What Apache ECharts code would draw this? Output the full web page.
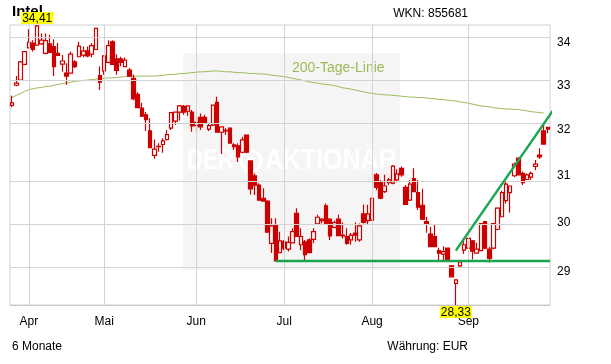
<!DOCTYPE html>
<html><head><meta charset="utf-8">
<script src="https://cdn.jsdelivr.net/npm/echarts@6/dist/echarts.min.js"></script>
<style>html,body{margin:0;padding:0;background:#fff}#c{width:611px;height:364px}</style>
</head><body><div id="c"></div>
<script>
const dates = [
'28.03.','29.03.','30.03.','31.03.',
'03.04.','04.04.','05.04.','06.04.','07.04.','10.04.','11.04.','12.04.','13.04.','18.04.','19.04.','20.04.','21.04.','24.04.','25.04.','26.04.','27.04.','28.04.',
'02.05.','03.05.','04.05.','05.05.','08.05.','09.05.','10.05.','11.05.','12.05.','15.05.','16.05.','17.05.','18.05.','19.05.','22.05.','23.05.','24.05.','25.05.','26.05.','29.05.','30.05.','31.05.',
'01.06.','02.06.','06.06.','07.06.','08.06.','09.06.','12.06.','13.06.','14.06.','15.06.','16.06.','19.06.','20.06.','21.06.','22.06.','23.06.','26.06.','27.06.','28.06.','29.06.','30.06.',
'03.07.','04.07.','05.07.','06.07.','07.07.','10.07.','11.07.','12.07.','13.07.','14.07.','17.07.','18.07.','19.07.','20.07.','21.07.','24.07.','25.07.','26.07.','27.07.','28.07.','31.07.',
'01.08.','02.08.','03.08.','04.08.','07.08.','08.08.','09.08.','10.08.','11.08.','14.08.','15.08.','16.08.','17.08.','18.08.','21.08.','22.08.','23.08.','24.08.','25.08.','28.08.','29.08.','30.08.','31.08.',
'01.09.','04.09.','05.09.','06.09.','07.09.','08.09.','11.09.','12.09.','13.09.','14.09.','15.09.','18.09.','19.09.','20.09.','21.09.','22.09.','25.09.','26.09.','27.09.','28.09.'
];
const monthNames = {'04':'Apr','05':'Mai','06':'Jun','07':'Jul','08':'Aug','09':'Sep'};
const yTicks = [29,30,31,32,33,34];

const opens = [
32.54,33.00,33.12,33.48,33.87,33.98,33.93,33.96,33.74,33.96,
33.90,33.74,33.49,33.28,33.28,33.54,33.66,33.70,33.80,33.72,
33.83,33.22,33.33,33.53,34.01,33.61,33.61,33.43,33.35,33.16,
32.79,32.48,32.33,31.97,31.43,31.62,31.67,31.78,32.03,32.19,
32.39,32.52,32.41,32.39,32.09,32.27,32.27,32.01,32.10,32.61,
31.94,31.97,32.03,31.66,31.64,31.50,31.88,31.31,30.99,30.79,
30.51,30.45,29.57,29.95,29.38,29.60,29.45,29.58,30.19,29.54,
29.60,29.64,29.65,29.97,30.04,30.35,30.07,29.90,30.07,29.74,
29.71,29.64,29.78,29.64,30.18,30.04,30.05,31.01,30.86,30.65,
30.84,30.83,30.90,31.15,30.74,30.47,30.93,30.63,30.36,30.02,
29.76,29.71,29.42,29.35,29.47,29.11,28.76,29.11,29.43,29.47,
29.62,29.37,29.42,30.02,29.45,29.47,29.86,30.12,30.46,30.63,
30.99,31.37,31.04,30.91,30.96,31.19,31.44,31.97,32.05];
const closes = [
32.60,33.05,33.54,33.78,34.00,33.83,34.39,34.05,34.04,33.76,
33.43,33.69,33.56,33.21,33.72,33.43,33.91,33.79,33.68,33.92,
34.33,33.07,33.68,33.92,33.48,33.34,33.53,33.58,33.21,32.69,
32.49,32.30,32.22,31.60,31.57,31.63,31.75,31.89,32.38,32.39,
32.53,32.39,32.53,32.08,32.16,32.06,32.16,32.09,32.55,31.94,
32.06,31.98,31.70,31.62,31.40,31.77,31.50,30.71,30.79,30.47,
30.45,29.80,29.93,29.21,29.62,29.47,29.59,29.81,29.71,29.71,
29.34,29.38,29.81,30.11,30.07,29.97,29.72,30.00,29.73,29.72,
29.57,29.74,29.74,29.93,30.00,30.18,30.51,30.74,30.51,30.77,
30.90,31.20,31.03,31.01,30.38,30.81,30.65,30.32,30.07,29.98,
29.50,29.50,29.37,29.40,29.23,28.89,28.83,29.19,29.54,29.67,
29.41,29.45,29.98,29.47,29.26,29.98,30.30,30.63,30.81,30.77,
31.24,31.01,30.84,31.01,31.04,31.24,31.40,31.68,32.01];
const lows = [
32.50,32.98,33.10,33.46,33.86,33.78,33.91,33.94,33.72,33.74,
33.21,33.68,33.31,33.01,33.27,33.40,33.65,33.65,33.65,33.65,
33.82,32.89,33.24,33.51,33.47,33.24,33.44,33.42,33.19,32.66,
32.48,32.28,31.97,31.59,31.36,31.51,31.49,31.76,31.99,32.10,
32.20,32.33,32.31,31.95,31.95,31.99,32.14,31.97,32.08,31.94,
31.46,31.88,31.69,31.55,31.29,31.48,31.48,30.59,30.58,30.47,
30.45,29.79,29.37,29.21,29.37,29.43,29.40,29.57,29.71,29.43,
29.21,29.37,29.57,29.95,29.98,29.97,29.64,29.88,29.72,29.67,
29.54,29.54,29.60,29.60,29.98,29.95,30.03,30.68,30.49,30.62,
30.79,30.81,30.88,30.97,30.37,30.45,30.64,30.26,30.05,29.79,
29.49,29.49,29.23,29.23,29.22,28.89,28.33,29.09,29.35,29.45,
29.24,29.36,29.41,29.45,29.18,29.45,29.84,30.11,30.40,30.21,
30.96,31.00,30.79,30.90,30.90,31.11,31.35,31.68,31.92];
const highs = [
32.76,33.21,33.56,33.80,34.31,34.05,34.41,34.21,34.21,34.18,
34.07,33.98,33.70,33.51,33.78,33.58,34.01,33.90,33.90,33.98,
34.33,33.43,33.68,34.05,34.05,33.72,33.66,33.64,33.40,33.24,
32.84,32.60,32.39,32.25,31.78,31.70,31.81,31.99,32.38,32.40,
32.55,32.55,32.53,32.44,32.29,32.36,32.33,32.14,32.55,32.74,
32.06,32.03,32.04,31.70,31.70,31.84,31.89,31.31,31.04,30.83,
30.72,30.47,30.09,30.09,29.81,29.64,29.71,29.88,30.30,29.88,
29.64,29.67,29.88,30.16,30.09,30.40,30.09,30.04,30.16,30.00,
29.88,29.78,30.00,29.98,30.38,30.37,30.51,31.05,30.90,31.01,
30.94,31.22,31.13,31.19,30.79,30.90,31.15,30.90,30.71,30.12,
29.91,29.95,29.48,29.51,29.47,29.13,28.83,29.23,29.64,29.71,
29.64,29.58,29.98,30.02,29.50,29.98,30.32,30.67,30.86,30.77,
31.27,31.39,31.08,31.04,31.08,31.33,31.59,32.10,32.05];
const ma200 = [
32.72,32.77,32.81,32.86,32.90,32.92,32.94,32.95,32.97,32.98,
33.00,33.02,33.04,33.05,33.07,33.09,33.10,33.11,33.12,33.13,
33.14,33.15,33.16,33.17,33.17,33.18,33.19,33.20,33.20,33.21,
33.21,33.21,33.21,33.21,33.21,33.22,33.23,33.24,33.25,33.25,
33.27,33.27,33.28,33.29,33.30,33.31,33.31,33.32,33.33,33.33,
33.32,33.31,33.31,33.30,33.29,33.29,33.28,33.27,33.27,33.26,
33.26,33.25,33.23,33.22,33.21,33.20,33.18,33.16,33.14,33.12,
33.10,33.08,33.06,33.05,33.03,33.02,33.01,32.99,32.97,32.94,
32.93,32.91,32.89,32.87,32.85,32.83,32.81,32.80,32.79,32.78,
32.78,32.77,32.76,32.75,32.74,32.73,32.73,32.72,32.72,32.71,
32.70,32.69,32.68,32.67,32.66,32.65,32.64,32.62,32.61,32.59,
32.57,32.55,32.53,32.52,32.51,32.49,32.48,32.47,32.46,32.46,
32.45,32.45,32.43,32.42,32.40,32.39,32.38,32.37,null];
// trend lines (x = trading-day index, y = price)
const supportX = [63, 128.5];
const supportY = [29.21, 29.21];
const riseX = [106, 129.3];
const riseY = [29.42, 32.44];

const L = Math.log;
const FONT = "'Liberation Sans', Arial, sans-serif";
const WM_FONT = "bold 30px 'Liberation Sans', Arial, sans-serif";
const RED = '#cc0000';
const GREEN = '#1ba550';
const monthStarts = [];
dates.forEach((d, i) => { if (i > 0 && d.slice(3,5) !== dates[i-1].slice(3,5)) monthStarts.push(i); });
const hi = Math.max(...highs), lo = Math.min(...lows);
const hiIdx = highs.indexOf(hi), loIdx = lows.indexOf(lo);
const fmt = v => v.toFixed(2).replace('.', ',');

const chart = echarts.init(document.getElementById('c'), null, {renderer: 'canvas'});
chart.setOption({
  animation: false,
  backgroundColor: '#fff',
  grid: {left: 10, right: 61, top: 25, bottom: 59, show: true, borderColor: '#d0d0d0', borderWidth: 1, backgroundColor: 'transparent'},
  xAxis: [{
    type: 'category', data: dates, boundaryGap: true,
    axisLine: {lineStyle: {color: '#c8c8c8'}}, axisTick: {show: false}, splitLine: {show: false},
    axisLabel: {
      interval: (idx) => monthStarts.indexOf(idx) >= 0,
      formatter: v => monthNames[v.slice(3,5)] || '',
      color: '#000', fontSize: 12, fontFamily: FONT, margin: 11
    }
  }, {
    type: 'value', min: -0.5, max: dates.length - 0.5, show: false
  }],
  yAxis: {
    type: 'value', position: 'right', scale: true,
    min: L(lo), max: L(hi),
    axisLine: {show: false}, axisTick: {show: false}, splitLine: {show: false},
    axisLabel: {customValues: yTicks.map(L), formatter: v => String(Math.round(Math.exp(v))), color: '#000', fontSize: 12, fontFamily: FONT, margin: 7}
  },
  graphic: [
    {type: 'rect', z: -10, shape: {x: 183, y: 53, width: 217, height: 217}, style: {fill: '#f5f5f5'}},
    {type: 'text', z: -9, x: 187, y: 161, scaleX: 0.74, style: {text: 'DER', fill: '#ffffff', font: WM_FONT, textVerticalAlign: 'middle'}},
    {type: 'circle', z: -9, shape: {cx: 251, cy: 161, r: 10}, style: {fill: 'none', stroke: '#ffffff', lineWidth: 3}},
    {type: 'circle', z: -9, shape: {cx: 251, cy: 161, r: 4}, style: {fill: '#ffffff'}},
    {type: 'text', z: -9, x: 265, y: 161, scaleX: 0.83, style: {text: 'AKTIONÄR', fill: '#ffffff', font: WM_FONT, textVerticalAlign: 'middle'}},
    {type: 'text', x: 292, y: 68, style: {text: '200-Tage-Linie', fill: '#9bbb59', font: "14px " + FONT, textVerticalAlign: 'middle'}},
    {type: 'text', x: 12, y: 12, style: {text: 'Intel', fill: '#000', font: "bold 15px " + FONT, textVerticalAlign: 'middle'}},
    {type: 'text', x: 468, y: 14, style: {text: 'WKN: 855681', fill: '#000', font: "12px " + FONT, textAlign: 'right', textVerticalAlign: 'middle'}},
    {type: 'text', x: 12, y: 347, style: {text: '6 Monate', fill: '#000', font: "12px " + FONT, textVerticalAlign: 'middle'}},
    {type: 'text', x: 468, y: 347, style: {text: 'Währung: EUR', fill: '#000', font: "12px " + FONT, textAlign: 'right', textVerticalAlign: 'middle'}}
  ],
  series: [
    {
      type: 'line', name: '200-Tage-Linie', z: 2, data: ma200.map(v => v == null ? null : L(v)),
      symbol: 'none', lineStyle: {color: '#9bbb59', width: 1}, silent: true,
      markLine: {
        silent: true, symbol: 'none', animation: false, label: {show: false},
        lineStyle: {color: '#d3d3d3', width: 1, type: 'solid'},
        data: yTicks.map(v => ({yAxis: L(v)})).concat(monthStarts.map(i => ({xAxis: dates[i]})))
      }
    },
    {
      type: 'candlestick', name: 'Intel', z: 3, barWidth: 4,
      data: dates.map((d, i) => [L(opens[i]), L(closes[i]), L(lows[i]), L(highs[i])]),
      itemStyle: {color: 'rgba(0,0,0,0)', color0: RED, borderColor: RED, borderColor0: RED, borderWidth: 1.2},
      markPoint: {
        symbol: 'rect', symbolSize: 0, silent: true, animation: false,
        label: {show: true, color: '#000', backgroundColor: '#ffff00', fontSize: 12, fontFamily: FONT, lineHeight: 11, padding: [1, 1, 0, 1]},
        data: [
          {coord: [dates[hiIdx], L(hi)], label: {position: 'top', distance: 1, formatter: fmt(hi)}},
          {coord: [dates[loIdx], L(lo)], label: {position: 'bottom', distance: 1, formatter: fmt(lo)}}
        ]
      }
    },
    {
      type: 'line', xAxisIndex: 1, z: 5, clip: false, symbol: 'none', silent: true,
      data: supportX.map((x, i) => [x, L(supportY[i])]), lineStyle: {color: GREEN, width: 2.5}
    },
    {
      type: 'line', xAxisIndex: 1, z: 5, clip: false, symbol: 'none', silent: true,
      data: riseX.map((x, i) => [x, L(riseY[i])]), lineStyle: {color: GREEN, width: 2.5}
    }
  ]
});
</script></body></html>
